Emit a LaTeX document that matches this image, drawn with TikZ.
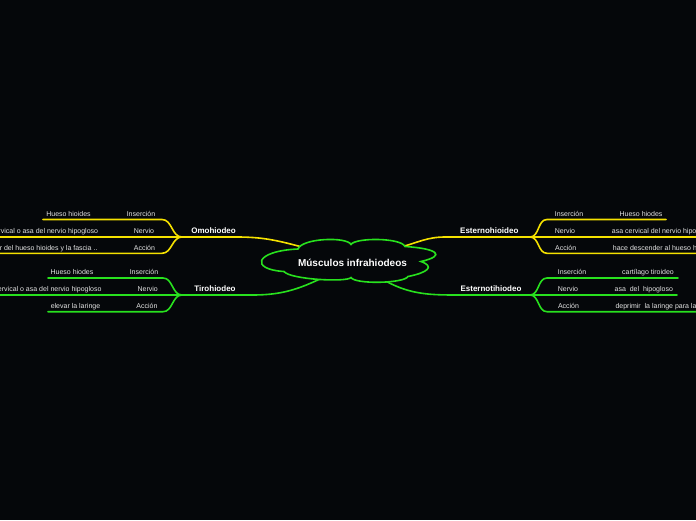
\documentclass[tikz,border=0pt]{standalone}
\usepackage{fontspec}
\setmainfont{Liberation Sans}
\usepackage{xcolor}
\usepackage{tikz}

\definecolor{bgdark}{RGB}{5,7,10}
\definecolor{ylw}{RGB}{245,225,0}
\definecolor{grn}{RGB}{40,225,30}
\definecolor{txtgray}{RGB}{228,228,228}

\begin{document}
\begin{tikzpicture}[
    x=1pt, y=1pt,
    topic/.style={font=\bfseries\fontsize{8}{9}\selectfont, text=white,
                  inner sep=0pt, anchor=base},
    leaf/.style={font=\fontsize{7}{8}\selectfont, text=txtgray,
                 inner sep=0pt, anchor=base},
    yline/.style={draw=ylw, line width=1.6pt, line cap=round},
    gline/.style={draw=grn, line width=1.6pt, line cap=round}
]
\fill[bgdark] (0,0) rectangle (696,-520);
\useasboundingbox (0,0) rectangle (696,-520);

% where the main branches meet the cloud
\coordinate (cNW) at (302,-247);
\coordinate (cNE) at (401,-247);
\coordinate (cSW) at (320,-279);
\coordinate (cSE) at (382,-279);

% junctions and line ends
\coordinate (omoJ) at (182,-237);
\coordinate (omo1) at (162,-219.5);   \coordinate (omo1e) at (43,-219.5);
\coordinate (omo2e) at (0,-237);
\coordinate (omo3) at (162,-253.3);   \coordinate (omo3e) at (0,-253.3);

\coordinate (tiJ) at (182,-295);
\coordinate (ti1) at (163,-278);      \coordinate (ti1e) at (48,-278);
\coordinate (ti2e) at (0,-295);
\coordinate (ti3) at (163,-311.7);    \coordinate (ti3e) at (48,-311.7);

\coordinate (esJ) at (530,-237);
\coordinate (es1) at (547,-219.5);    \coordinate (es1e) at (666,-219.5);
\coordinate (es2e) at (696,-237);
\coordinate (es3) at (547,-253.3);    \coordinate (es3e) at (696,-253.3);

\coordinate (etJ) at (530,-295);
\coordinate (et1) at (547,-278);      \coordinate (et1e) at (678,-278);
\coordinate (et2e) at (677,-295);
\coordinate (et3) at (547,-311.7);    \coordinate (et3e) at (696,-311.7);

% main branches
\draw[yline] (omoJ) -- ++(55,0) to[out=0,in=165] (cNW);
\draw[gline] (tiJ) -- ++(70,0) to[out=0,in=205] (cSW);
\draw[yline] (esJ) -- ++(-85,0) to[out=180,in=15] (cNE);
\draw[gline] (etJ) -- ++(-75,0) to[out=180,in=330] (cSE);

% central topic
\draw[grn, line width=1.6pt, fill=bgdark]
  (298,-249) .. controls +(4,11) and +(-4,8) .. (351,-244.5)
  .. controls +(4,7) and +(-4,9) .. (405,-246.5)
  .. controls +(32,-2) and +(26,6) .. (421,-261.5)
  .. controls +(14,-5) and +(20,4) .. (408,-276.5)
  .. controls +(-4,-7) and +(4,-7) .. (351,-277.5)
  .. controls +(-4,-5) and +(6,-8) .. (284,-271.5)
  .. controls +(-34,2) and +(-44,-2) .. cycle;
\node[font=\bfseries\fontsize{10}{12}\selectfont, text=white, inner sep=0pt,
      anchor=base] (title) at (352.5,-266.6) {Músculos infrahiodeos};

% Omohiodeo
\draw[yline] (omoJ) to[out=180,in=0] (omo1) -- (omo1e);
\draw[yline] (omoJ) -- (omo2e);
\draw[yline] (omoJ) to[out=180,in=0] (omo3) -- (omo3e);
\node[topic] (omo) at (213.5,-233.6) {Omohiodeo};
\node[leaf] (omoIns) at (68.5,-216.5) {Hueso hioides};
\node[leaf] (omoInsL) at (141,-216.5) {Inserción};
\node[leaf, anchor=base east] (omoNer) at (98.3,-233.2) {Asa cervical o asa del nervio hipogloso};
\node[leaf] (omoNerL) at (144,-233.2) {Nervio};
\node[leaf, anchor=base east] (omoAcc) at (97.7,-250.2) {Descender del hueso hioides y la fascia ..};
\node[leaf] (omoAccL) at (144.5,-250.2) {Acción};

% Tirohiodeo
\draw[gline] (tiJ) to[out=180,in=0] (ti1) -- (ti1e);
\draw[gline] (tiJ) -- (ti2e);
\draw[gline] (tiJ) to[out=180,in=0] (ti3) -- (ti3e);
\node[topic] (tiro) at (215,-291.9) {Tirohiodeo};
\node[leaf] (tiIns) at (72,-274.2) {Hueso hiodes};
\node[leaf] (tiInsL) at (144,-274.2) {Inserción};
\node[leaf, anchor=base east] (tiNer) at (101.7,-291.2) {Asa cervical o asa del nervio hipogloso};
\node[leaf] (tiNerL) at (147.7,-291.2) {Nervio};
\node[leaf] (tiAcc) at (75.5,-308.2) {elevar la laringe};
\node[leaf] (tiAccL) at (147,-308.2) {Acción};

% Esternohioideo
\draw[yline] (esJ) to[out=0,in=180] (es1) -- (es1e);
\draw[yline] (esJ) -- (es2e);
\draw[yline] (esJ) to[out=0,in=180] (es3) -- (es3e);
\node[topic] (ester) at (489.3,-233.6) {Esternohioideo};
\node[leaf] (esInsL) at (569,-216.5) {Inserción};
\node[leaf] (esIns) at (641,-216.5) {Hueso hiodes};
\node[leaf] (esNerL) at (565,-233.2) {Nervio};
\node[leaf, anchor=base west] (esNer) at (611.7,-233.2) {asa cervical del nervio hipogloso};
\node[leaf] (esAccL) at (565.7,-250.2) {Acción};
\node[leaf, anchor=base west] (esAcc) at (612.7,-250.2) {hace descender al hueso hioides};

% Esternotihiodeo
\draw[gline] (etJ) to[out=0,in=180] (et1) -- (et1e);
\draw[gline] (etJ) -- (et2e);
\draw[gline] (etJ) to[out=0,in=180] (et3) -- (et3e);
\node[topic] (esterti) at (491,-291.9) {Esternotihiodeo};
\node[leaf] (etInsL) at (572,-274.2) {Inserción};
\node[leaf] (etIns) at (648,-274.2) {cartílago tiroideo};
\node[leaf] (etNerL) at (568,-291.2) {Nervio};
\node[leaf] (etNer) at (643.8,-291.2) {asa\ \ del\ \ hipogloso};
\node[leaf] (etAccL) at (568.5,-308.2) {Acción};
\node[leaf, anchor=base west] (etAcc) at (615.3,-308.2) {deprimir\ \ la laringe para la deglución};
\end{tikzpicture}
\end{document}
